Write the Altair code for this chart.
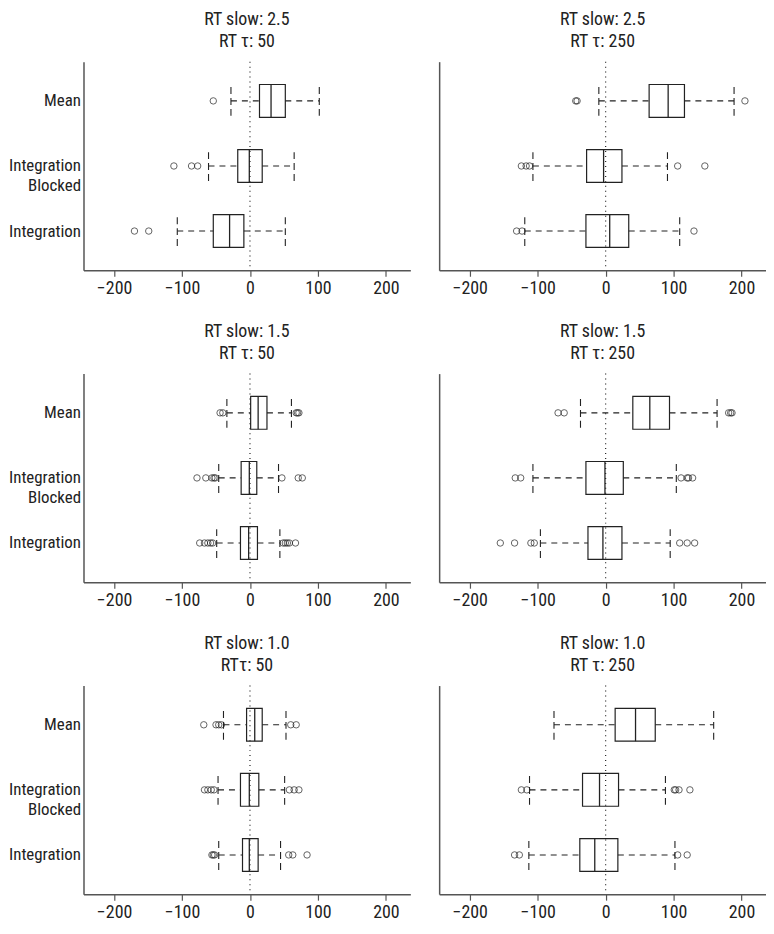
import altair as alt
import pandas as pd

# ---------------- data ----------------
categories = ["Mean", "Integration Blocked", "Integration"]
cat_pos = [2, 1, 0]  # Mean at top

rt_slow = ["2.5", "2.5", "1.5", "1.5", "1.0", "1.0"]
tau_titles = ["RT τ: 50", "RT τ: 250", "RT τ: 50", "RT τ: 250", "RTτ: 50", "RT τ: 250"]

# per panel, per category [Mean, Integration Blocked, Integration]
whisker_lo = [
    [-28, -61, -107],
    [-10, -107, -119],
    [-34, -46, -49],
    [-37, -107, -96],
    [-39, -47, -46],
    [-76, -112, -113],
]
q1 = [
    [14, -18, -54],
    [64, -28, -29],
    [1, -13, -14],
    [40, -29, -26],
    [-5, -14, -11],
    [14, -34, -38],
]
median = [
    [31, -1, -30],
    [92, -3, 6],
    [12, -1, -2],
    [65, -1, -4],
    [7, -1, -1],
    [44, -9, -16],
]
q3 = [
    [52, 18, -9],
    [116, 24, 34],
    [25, 10, 11],
    [94, 26, 24],
    [18, 13, 12],
    [73, 19, 18],
]
whisker_hi = [
    [102, 65, 52],
    [189, 91, 109],
    [61, 42, 44],
    [164, 104, 95],
    [53, 51, 45],
    [159, 88, 102],
]
outliers = [
    [[-54], [-112, -86, -77], [-170, -149]],
    [[-44, -42, 205], [-124, -117, -112, 106, 146], [-131, -123, 130]],
    [[-44, -40, 68, 70, 72], [-78, -65, -56, -53, -51, 47, 71, 77],
     [-74, -67, -62, -58, -55, 49, 52, 55, 58, 67]],
    [[-70, -61, 181, 184, 186], [-133, -125, 111, 120, 122, 128],
     [-155, -134, -110, -105, 109, 120, 131]],
    [[-68, -50, -46, -42, 60, 68], [-67, -62, -57, -53, 58, 65, 72],
     [-56, -54, -52, 57, 63, 84]],
    [[], [-124, -116, 101, 103, 108, 124], [-134, -127, 106, 120]],
]
x_ticks = [-200, -100, 0, 100, 200]

# ---------------- styling ----------------
FONT = "Liberation Sans Narrow, Arial Narrow, Roboto Condensed, DejaVu Sans Condensed, sans-serif"
INK = "#222222"
AXIS_GREY = "#555555"
X_DOMAIN = [-245, 236]
Y_DOMAIN = [-0.603, 2.603]
BOX_HALF = 0.252
CAP_HALF = 0.23
PANEL_W = 329
PANEL_H = 210

label_expr = (
    "datum.value == 2 ? '" + categories[0] + "' : datum.value == 1 ? "
    "['" + categories[1].split(' ')[0] + "', '" + categories[1].split(' ')[1] + "'] : "
    "datum.value == 0 ? '" + categories[2] + "' : ''"
)


def panel(i, show_labels):
    stats = pd.DataFrame({
        "cat": categories,
        "pos": cat_pos,
        "lo": whisker_lo[i],
        "q1": q1[i],
        "med": median[i],
        "q3": q3[i],
        "hi": whisker_hi[i],
    })
    stats["box_lo"] = stats["pos"] - BOX_HALF
    stats["box_hi"] = stats["pos"] + BOX_HALF
    stats["cap_lo"] = stats["pos"] - CAP_HALF
    stats["cap_hi"] = stats["pos"] + CAP_HALF

    out_rows = []
    for c, p, vals in zip(categories, cat_pos, outliers[i]):
        for v in vals:
            out_rows.append({"cat": c, "pos": p, "val": v})
    out_df = pd.DataFrame(out_rows, columns=["cat", "pos", "val"])

    xs = alt.Scale(domain=X_DOMAIN, nice=False, zero=False)
    ys = alt.Scale(domain=Y_DOMAIN, nice=False, zero=False)
    xaxis = alt.Axis(values=x_ticks, title=None, grid=False, tickSize=6,
                     tickColor=AXIS_GREY, domainColor=AXIS_GREY, domainWidth=1.5,
                     tickWidth=1.2, labelFont=FONT, labelFontSize=18,
                     labelColor=INK, labelPadding=3)
    yaxis = alt.Axis(values=[0, 1, 2], title=None, grid=False, ticks=False,
                     labels=show_labels, labelExpr=label_expr, labelFont=FONT,
                     labelFontSize=17, labelColor=INK, labelPadding=3,
                     labelLineHeight=20, labelAlign="right",
                     domainColor=AXIS_GREY, domainWidth=1.5)

    def X(f):
        return alt.X(f"{f}:Q", scale=xs, axis=xaxis)

    def Y(f):
        return alt.Y(f"{f}:Q", scale=ys, axis=yaxis)

    base = alt.Chart(stats)
    dash = [6, 5]
    w_lo = base.mark_rule(strokeDash=dash, color=INK, strokeWidth=1.1).encode(
        x=X("lo"), x2="q1", y=Y("pos"))
    w_hi = base.mark_rule(strokeDash=dash, color=INK, strokeWidth=1.1).encode(
        x=X("q3"), x2="hi", y=Y("pos"))
    c_lo = base.mark_rule(strokeDash=[7, 4], color=INK, strokeWidth=1.1).encode(
        x=X("lo"), y=Y("cap_lo"), y2="cap_hi")
    c_hi = base.mark_rule(strokeDash=[7, 4], color=INK, strokeWidth=1.1).encode(
        x=X("hi"), y=Y("cap_lo"), y2="cap_hi")
    box = base.mark_rect(fill="white", fillOpacity=0, stroke=INK, strokeWidth=1.2).encode(
        x=X("q1"), x2="q3", y=Y("box_lo"), y2="box_hi")
    med = base.mark_rule(color=INK, strokeWidth=1.3).encode(
        x=X("med"), y=Y("box_lo"), y2="box_hi")
    pts = alt.Chart(out_df).mark_point(shape="circle", filled=False, size=42,
                                        color=INK, strokeWidth=1).encode(
        x=X("val"), y=Y("pos"))
    zero = alt.Chart(pd.DataFrame({"zero": [0]})).mark_rule(
        strokeDash=[1, 4], color=INK, strokeWidth=1.2).encode(x=X("zero"))

    title = alt.TitleParams(
        text=[f"RT slow: {rt_slow[i]}", tau_titles[i]],
        font=FONT, fontSize=18, fontWeight="normal", color=INK,
        lineHeight=22, offset=10, anchor="middle", frame="group",
    )
    return alt.layer(w_lo, w_hi, c_lo, c_hi, box, med, pts, zero).properties(
        width=PANEL_W, height=PANEL_H, title=title)


rows = []
for r in range(3):
    rows.append(alt.hconcat(panel(2 * r, True), panel(2 * r + 1, False), spacing=29))

chart = alt.vconcat(*rows, spacing=26).properties(
    padding=0, background="white").configure_view(strokeWidth=0, stroke=None)

chart.save("out.html", embed_options={"renderer": "svg", "actions": False})
